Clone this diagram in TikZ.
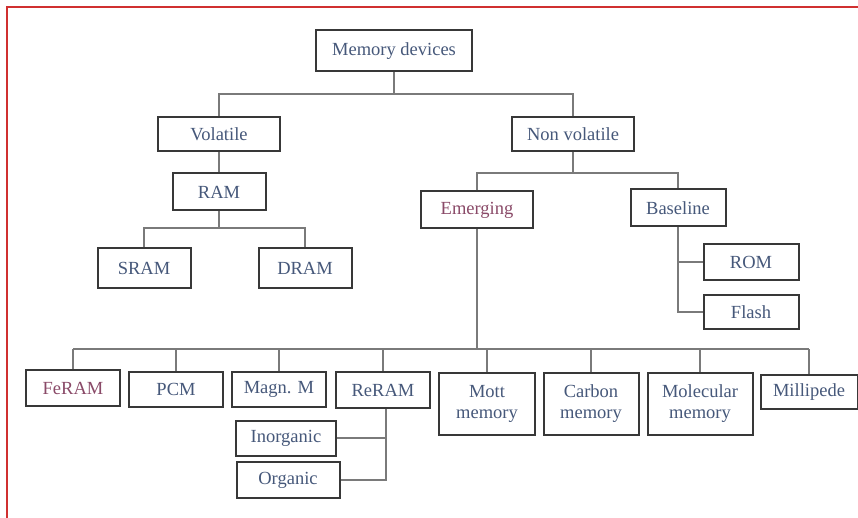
\documentclass[tikz,border=0pt]{standalone}
\usepackage{fontspec}
\setmainfont{Liberation Serif}
\definecolor{boxGray}{HTML}{383838}
\definecolor{linkGray}{HTML}{7A7A7A}
\definecolor{labelBlue}{HTML}{46587A}
\definecolor{labelPlum}{HTML}{8A4A68}
\definecolor{frameRed}{HTML}{D03030}
\tikzset{
  memBox/.style={draw=boxGray, line width=2pt, fill=white, text=labelBlue,
    inner sep=1pt, align=center, font=\fontsize{18.5}{21}\selectfont},
  link/.style={draw=linkGray, line width=1.1pt},
}
\begin{document}
\begin{tikzpicture}[x=1pt, y=-1pt]
        \useasboundingbox (0,0) rectangle (858,518);
        \draw [frameRed, line width=1.5pt] (7,518) -- (7,7) -- (858,7);

        % upper levels
        \node [memBox, minimum width=156, minimum height=41] (memdev) at (394,51) {Memory devices};
        \node [memBox, minimum width=122, minimum height=34] (volatile) at (219,134) {Volatile};
        \node [memBox, minimum width=122, minimum height=34] (nonvol) at (573,134) {Non volatile};
        \node [memBox, minimum width=93, minimum height=37] (ram) at (219,192) {RAM};
        \node [memBox, minimum width=93, minimum height=39] (sram) at (144,268) {SRAM};
        \node [memBox, minimum width=93, minimum height=39] (dram) at (305,268) {DRAM};
        \node [memBox, minimum width=112, minimum height=37, text=labelPlum] (emerging) at (477,210) {Emerging};
        \node [memBox, minimum width=95, minimum height=37] (baseline) at (678,208) {Baseline};
        \node [memBox, minimum width=95, minimum height=35] (rom) at (751,262) {ROM};
        \node [memBox, minimum width=95, minimum height=34] (flash) at (751,312) {Flash};

        % emerging devices
        \node [memBox, minimum width=94, minimum height=36, text=labelPlum] (feram) at (73,388) {FeRAM};
        \node [memBox, minimum width=94, minimum height=35] (pcm) at (176,389) {PCM};
        \node [memBox, minimum width=94, minimum height=35] (magn) at (279,389) {Magn. M};
        \node [memBox, minimum width=94, minimum height=36] (reram) at (383,390) {ReRAM};
        \node [memBox, minimum width=96, minimum height=62] (mott) at (487,404) {Mott\\memory};
        \node [memBox, minimum width=95, minimum height=62] (carbon) at (591,404) {Carbon\\memory};
        \node [memBox, minimum width=105, minimum height=62] (molecular) at (700,404) {Molecular\\memory};
        \node [memBox, minimum width=97, minimum height=34] (millipede) at (809,392) {Millipede};
        \node [memBox, minimum width=100, minimum height=35] (inorganic) at (286,438) {Inorganic};
        \node [memBox, minimum width=103, minimum height=36] (organic) at (288,480) {Organic};

        \coordinate (topbus) at (0,94);
        \coordinate (nvbus) at (0,173);
        \coordinate (rambus) at (0,228);
        \coordinate (lowbus) at (0,349);

        \draw [link] (memdev.south) -- (memdev.south |- topbus);
        \draw [link] (volatile.north) -- (volatile.north |- topbus) -- (nonvol.north |- topbus) -- (nonvol.north);
        \draw [link] (volatile.south) -- (ram.north);
        \draw [link] (ram.south) -- (ram.south |- rambus);
        \draw [link] (sram.north) -- (sram.north |- rambus) -- (dram.north |- rambus) -- (dram.north);
        \draw [link] (nonvol.south) -- (nonvol.south |- nvbus);
        \draw [link] (emerging.north) -- (emerging.north |- nvbus) -- (baseline.north |- nvbus) -- (baseline.north);

        \draw [link] (baseline.south) -- (baseline.south |- flash.west) -- (flash.west);
        \draw [link] (baseline.south |- rom.west) -- (rom.west);

        \draw [link] (emerging.south) -- (emerging.south |- lowbus);
        \draw [link] (feram.north |- lowbus) -- (millipede.north |- lowbus);
        \foreach \dev in {feram, pcm, magn, reram, mott, carbon, molecular, millipede}
          \draw [link] (\dev.north |- lowbus) -- (\dev.north);

        \draw [link] ([xshift=3pt]reram.south) -- ([xshift=3pt]reram.south |- organic.east) -- (organic.east);
        \draw [link] (inorganic.east) -- ([xshift=3pt]reram.south |- inorganic.east);
      \end{tikzpicture}
\end{document}
